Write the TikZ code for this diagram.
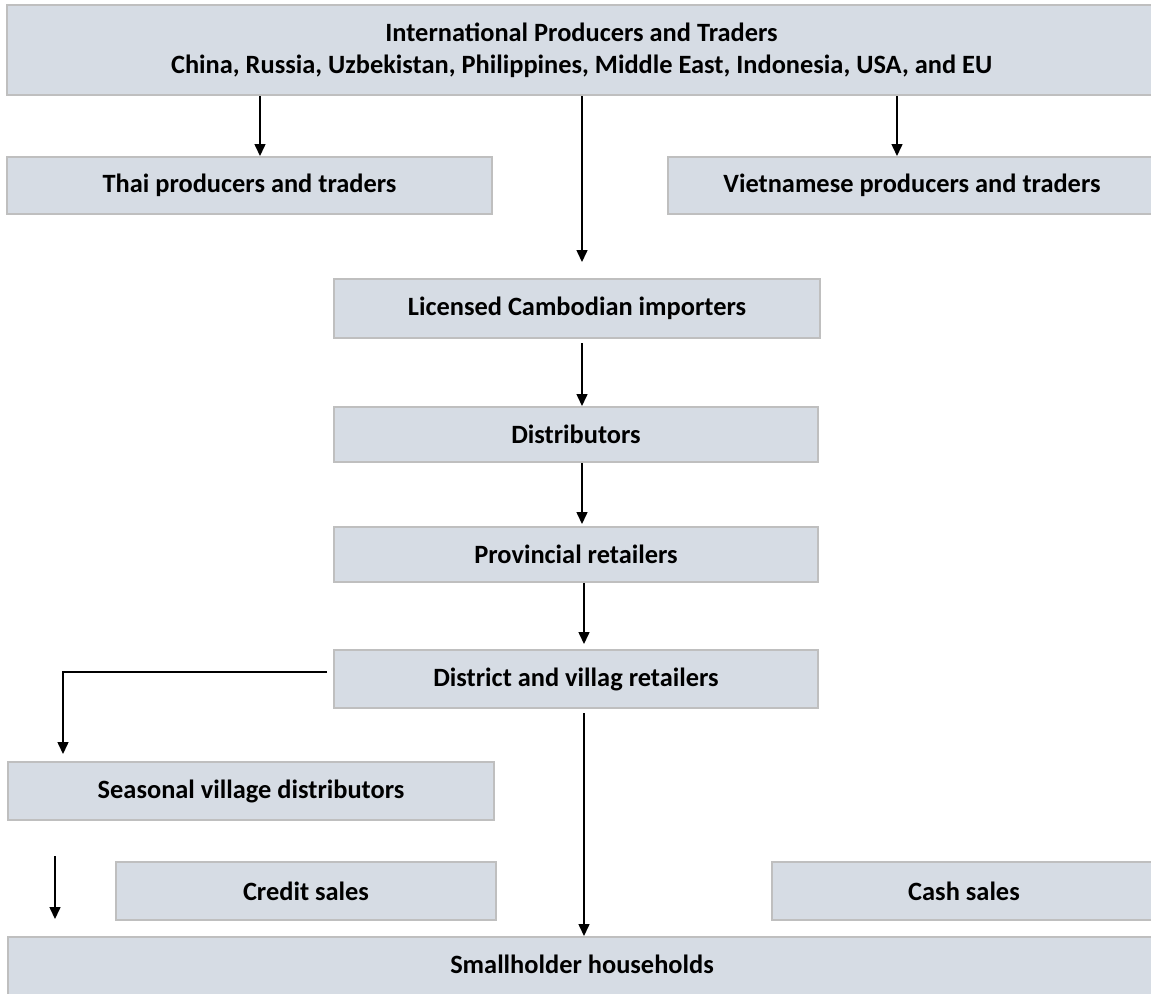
\documentclass[tikz,border=0pt]{standalone}
\usepackage{fontspec}
\setmainfont{Carlito}
\usetikzlibrary{arrows.meta}
\definecolor{boxfill}{HTML}{D6DCE4}
\definecolor{boxline}{HTML}{BFBFBF}
\tikzset{
  box/.style={draw=boxline, fill=boxfill, line width=1pt, inner sep=0pt, align=center, font=\fontsize{13.2}{16}\selectfont\bfseries},
  flow/.style={-{Triangle[length=6pt,width=5.5pt]}, draw=black, line width=0.75pt},
}
\begin{document}
\begin{tikzpicture}[x=0.5pt,y=-0.5pt]
  \useasboundingbox (0,0) rectangle (1151,993);
  % boxes
  \node[box, minimum width=574.5pt, minimum height=45pt] (intl) at (581.5,50) {International Producers and Traders\\China, Russia, Uzbekistan, Philippines, Middle East, Indonesia, USA, and EU};
  \node[box, minimum width=242.5pt, minimum height=28.5pt] (thai) at (249.5,185.5) {Thai producers and traders};
  \node[box, minimum width=244pt, minimum height=28.5pt] (viet) at (912,185.5) {Vietnamese producers and traders};
  \node[box, minimum width=243pt, minimum height=29.5pt] (lic) at (577,308.5) {Licensed Cambodian importers};
  \node[box, minimum width=242pt, minimum height=27.5pt] (dist) at (576,434.5) {Distributors};
  \node[box, minimum width=242pt, minimum height=27.5pt] (prov) at (576,554.5) {Provincial retailers};
  \node[box, minimum width=242pt, minimum height=29pt] (distr) at (576,679) {District and villag retailers};
  \node[box, minimum width=243pt, minimum height=29pt] (seas) at (251,791) {Seasonal village distributors};
  \node[box, minimum width=190pt, minimum height=29pt] (credit) at (306,891) {Credit sales};
  \node[box, minimum width=192pt, minimum height=29pt] (cash) at (964,891) {Cash sales};
  \node[box, minimum width=574pt, minimum height=31.5pt, text depth=4pt] (small) at (582,968.5) {Smallholder households};
  % arrow columns
  \coordinate (cthai) at (260,0);
  \coordinate (cviet) at (897,0);
  \coordinate (cmid) at (582,0);
  \coordinate (clow) at (584,0);
  \coordinate (cseas) at (63,0);
  \coordinate (cleft) at (55,0);
  \coordinate (cbend) at (0,672);
  % arrows
  \draw[flow] (intl.south -| cthai) -- (thai.north -| cthai);
  \draw[flow] (intl.south -| cviet) -- (viet.north -| cviet);
  \draw[flow, shorten >=8pt] (intl.south -| cmid) -- (lic.north -| cmid);
  \draw[flow, shorten <=2pt] (lic.south -| cmid) -- (dist.north -| cmid);
  \draw[flow, shorten >=1pt] (dist.south -| cmid) -- (prov.north -| cmid);
  \draw[flow, shorten >=2.5pt] (prov.south -| clow) -- (distr.north -| clow);
  \draw[flow, shorten <=2pt] (distr.south -| clow) -- (small.north -| clow);
  \draw[flow, shorten <=3pt, shorten >=3.5pt] (distr.west |- cbend) -| (seas.north -| cseas);
  \draw[flow, shorten <=17.5pt, shorten >=8.5pt] (seas.south -| cleft) -- (small.north -| cleft);
\end{tikzpicture}
\end{document}
